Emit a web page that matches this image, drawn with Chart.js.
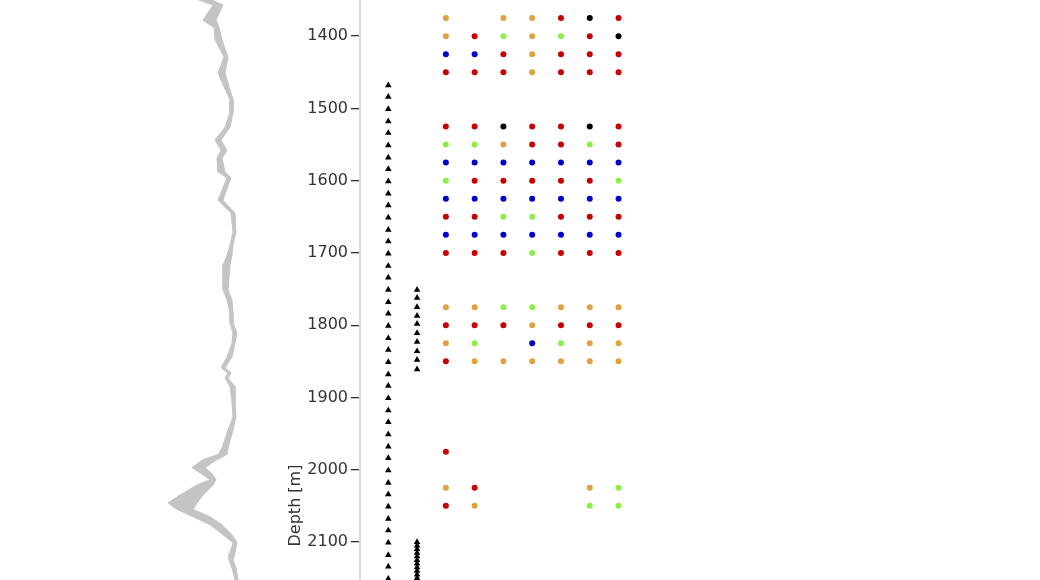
<!DOCTYPE html>
<html>
<head>
<meta charset="utf-8">
<script src="https://cdn.jsdelivr.net/npm/chart.js@4.4.1/dist/chart.umd.min.js"></script>
<style>
  html, body { margin: 0; padding: 0; background: #fff; overflow: hidden; }
  #wrap { position: relative; width: 1040px; height: 580px; overflow: hidden; }
  #main, #log { position: absolute; left: 0; top: 0; }
</style>
</head>
<body>
<div id="wrap">
  <canvas id="main" width="1040" height="1011" style="width:1040px;height:1011px"></canvas>
  <canvas id="log" width="360" height="1011" style="width:360px;height:1011px"></canvas>
</div>
<script>
// depth range shown
const depthMin = 1350;
const depthMax = 2749;
const depthTicks = [1400, 1500, 1600, 1700, 1800, 1900, 2000, 2100, 2200, 2300, 2400, 2500, 2600, 2700];

// log curve (min / max envelope)
const logDepths = [1343, 1350, 1357, 1378, 1388, 1405, 1429, 1451, 1470, 1488, 1506, 1526, 1544, 1558, 1569, 1588, 1596, 1627, 1645, 1671, 1689, 1703, 1717, 1751, 1765, 1783, 1797, 1811, 1825, 1844, 1859, 1866, 1873, 1885, 1907, 1927, 1945, 1970, 1979, 1986, 1997, 2007, 2014, 2021, 2035, 2046, 2055, 2065, 2076, 2090, 2101, 2115, 2125, 2136, 2152, 2160];
const logLow = [95, 99.5, 106.5, 101.5, 107, 107.5, 112, 109, 112, 115, 115, 112.5, 107.5, 110.5, 108.5, 109, 113.5, 109, 115.5, 116.5, 115, 113.5, 111.5, 111.5, 113.5, 115, 115, 116.5, 116, 113.5, 110.5, 114, 112.5, 115, 116, 116.5, 114, 111, 109, 101.5, 96, 101.5, 105, 98.5, 90, 84, 88.5, 96.5, 105, 111.5, 116.5, 115, 114.5, 116, 117.5, 118];
const logHigh = [101, 106, 111.5, 108, 109.5, 111, 114, 112.5, 114.5, 116.5, 116.5, 115, 110.5, 113.5, 111, 112.5, 115.5, 111.5, 117.5, 118, 116.5, 116, 115, 114, 116, 116.5, 116.5, 118.5, 117.5, 116, 112.5, 115.5, 114, 117.5, 117.5, 118, 116.5, 114, 113.5, 108.5, 102.5, 106.5, 108, 106.5, 101.5, 98.5, 96.5, 105, 111, 116, 118.5, 117.5, 116.5, 118, 119, 119.5];

// marker tracks
const track1Depths = [1468, 1484, 1501, 1518, 1534, 1551, 1568, 1584, 1601, 1618, 1634, 1651, 1668, 1684, 1701, 1718, 1734, 1751, 1768, 1784, 1801, 1818, 1834, 1851, 1868, 1884, 1901, 1918, 1934, 1951, 1968, 1984, 2001, 2018, 2034, 2051, 2068, 2084, 2101, 2118, 2134, 2151];
const track2Depths = [1751, 1762, 1775, 1787, 1798, 1811, 1823, 1836, 1848, 1861, 2100, 2105, 2110, 2115, 2120, 2125, 2130, 2135, 2140, 2145, 2150];

// samples: one string per depth, one letter per column (. = none)
const sampleDepths = [1375, 1400, 1425, 1450, 1525, 1550, 1575, 1600, 1625, 1650, 1675, 1700, 1775, 1800, 1825, 1850, 1975, 2025, 2050];
const sampleClasses = [
  'O.OORKR', 'ORGOGRK', 'BBRORRR', 'RRRORRR',
  'RRKRRKR', 'GGORRGR', 'BBBBBBB', 'GRRRRRG', 'BBBBBBB', 'RRGGRRR', 'BBBBBBB', 'RRRGRRR',
  'OOGGOOO', 'RRRORRR', 'OG.BGOO', 'ROOOOOO',
  'R......', 'OR...OG', 'RO...GG'
];
const classKeys = ['O', 'R', 'B', 'G', 'K'];
const classColors = { O: '#e0a23e', R: '#c80000', B: '#0000cc', G: '#8cee48', K: '#000000' };

const font = { family: 'DejaVu Sans', size: 16 };

// log track
new Chart(document.getElementById('log'), {
  type: 'line',
  data: {
    datasets: [
      {
        data: logDepths.map((d, i) => ({ x: logLow[i], y: d })),
        borderColor: '#c4c4c4', borderWidth: 1, pointRadius: 0, fill: false
      },
      {
        data: logDepths.map((d, i) => ({ x: logHigh[i], y: d })),
        borderColor: '#c4c4c4', borderWidth: 1, pointRadius: 0,
        backgroundColor: '#c4c4c4', fill: '-1'
      }
    ]
  },
  options: {
    responsive: false,
    animation: false,
    indexAxis: 'y',
    layout: { padding: 0, autoPadding: false },
    plugins: { legend: { display: false }, tooltip: { enabled: false } },
    scales: {
      x: { type: 'linear', display: false, min: 0, max: 180 },
      y: { type: 'linear', display: false, min: depthMin, max: depthMax, reverse: true }
    }
  }
});

// marker and sample columns
const datasets = [
  { data: track1Depths.map(d => ({ x: 0, y: d })), pointStyle: 'triangle', pointRadius: 3.8, backgroundColor: '#000', borderWidth: 0 },
  { data: track2Depths.map(d => ({ x: 1, y: d })), pointStyle: 'triangle', pointRadius: 3.8, backgroundColor: '#000', borderWidth: 0 }
];
classKeys.forEach(k => {
  const pts = [];
  sampleDepths.forEach((d, r) => {
    sampleClasses[r].split('').forEach((c, col) => {
      if (c === k) pts.push({ x: col + 2, y: d });
    });
  });
  datasets.push({ data: pts, pointRadius: 3, backgroundColor: classColors[k], borderWidth: 0 });
});

new Chart(document.getElementById('main'), {
  type: 'scatter',
  data: { datasets },
  options: {
    responsive: false,
    animation: false,
    layout: { padding: { left: 280, right: 0, top: 0, bottom: 0 }, autoPadding: false },
    plugins: { legend: { display: false }, tooltip: { enabled: false } },
    scales: {
      x: { type: 'linear', display: false, min: -0.983, max: 22.644 },
      y: {
        type: 'linear',
        position: 'left',
        reverse: true,
        min: depthMin,
        max: depthMax,
        afterBuildTicks: s => { s.ticks = depthTicks.map(v => ({ value: v })); },
        afterFit: s => { s.width = 80; s.paddingTop = 0; s.paddingBottom = 0; },
        grid: { drawOnChartArea: false, drawTicks: true, tickLength: 9, color: '#333', lineWidth: 1.3 },
        border: { display: true, color: '#dadada', width: 2 },
        ticks: { font, color: '#333', padding: 3, callback: v => String(v) },
        title: { display: true, text: 'Depth [m]', font, color: '#333', padding: { top: 6, bottom: 0 } }
      }
    }
  }
});
</script>
</body>
</html>
